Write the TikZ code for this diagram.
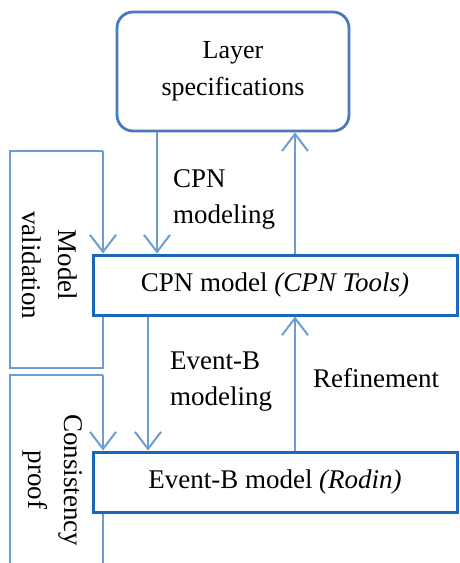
\documentclass[tikz,border=0pt]{standalone}
\usepackage{fontspec}
\setmainfont{Liberation Serif}
\usetikzlibrary{arrows.meta}
\definecolor{linkblue}{RGB}{112,156,212}
\definecolor{boxblue}{RGB}{24,104,188}
\definecolor{specblue}{RGB}{72,122,188}
\tikzset{
  txt/.style={font=\fontsize{27}{36}\selectfont},
  modelbox/.style={draw=boxblue, line width=3pt, minimum width=364pt,
    minimum height=60pt, inner sep=0pt, txt},
  specbox/.style={draw=specblue, line width=2.8pt, rounded corners=16pt,
    minimum width=232pt, minimum height=119pt, align=center,
    font=\fontsize{26}{37}\selectfont},
  conn/.style={draw=linkblue, line width=2pt,
    -{Straight Barb[length=17pt, width=26pt, line width=2pt]}},
  loopline/.style={draw=linkblue, line width=2pt},
  lbl/.style={inner sep=0pt, align=left, txt},
  sidelbl/.style={inner sep=0pt, align=center, rotate=-90, txt}
}
\begin{document}
\begin{tikzpicture}[x=1pt, y=-1pt]
  \clip (0,0) rectangle (459,563);
  \fill[white] (0,0) rectangle (459,563);

  % main boxes
  \node[specbox] (spec) at (233,71.5) {Layer\\specifications};
  \node[modelbox] (cpn) at (275,285) {CPN model \textit{(CPN Tools)}};
  \node[modelbox] (evb) at (275,482) {Event-B model \textit{(Rodin)}};

  % column positions of the connectors
  \coordinate (cdown1) at (157,0);
  \coordinate (cdown2) at (148,0);
  \coordinate (cup) at (295,0);
  \coordinate (cloop) at (103,0);

  % vertical connectors between the boxes
  \draw[conn] (cdown1 |- spec.south) -- (cdown1 |- cpn.north);
  \draw[conn] (cup |- cpn.north) -- (cup |- spec.south);
  \draw[conn] (cdown2 |- cpn.south) -- (cdown2 |- evb.north);
  \draw[conn] (cup |- evb.north) -- (cup |- cpn.south);

  % validation loop around the CPN model
  \coordinate (v1) at (103,368);
  \coordinate (v2) at (10,368);
  \coordinate (v3) at (10,151);
  \coordinate (v4) at (103,151);
  \draw[loopline] (cloop |- cpn.south) -- (v1) -- (v2) -- (v3) -- (v4);
  \draw[conn] (v4) -- (cloop |- cpn.north);

  % proof loop around the Event-B model
  \coordinate (p1) at (103,580);
  \coordinate (p2) at (10,580);
  \coordinate (p3) at (10,375);
  \coordinate (p4) at (103,375);
  \draw[loopline] (cloop |- evb.south) -- (p1);
  \draw[loopline] (p2) -- (p3) -- (p4);
  \draw[conn] (p4) -- (cloop |- evb.north);

  % connector labels
  \node[lbl, anchor=west] (lcpn) at (173,199) {CPN\\modeling};
  \node[lbl, anchor=west] (levb) at (170,382) {Event-B\\modeling};
  \node[lbl, anchor=west] (lref) at (313,378) {Refinement};

  % side labels
  \node[sidelbl] (lval) at (50,265) {Model\\validation};
  \node[sidelbl] (lproof) at (53,480) {Consistency\\proof};
\end{tikzpicture}
\end{document}
